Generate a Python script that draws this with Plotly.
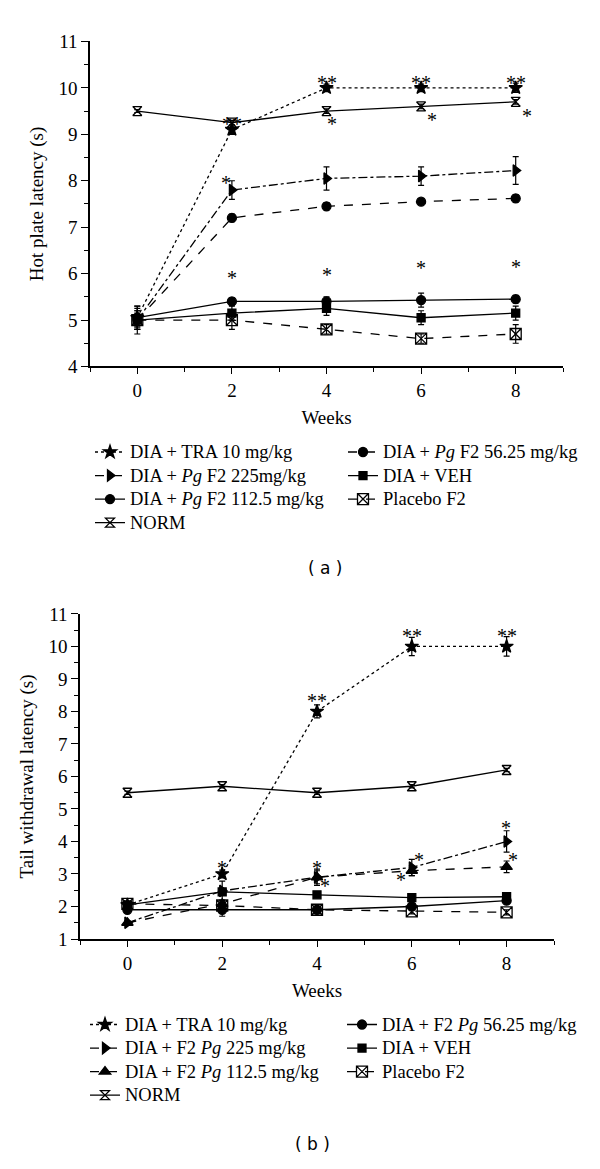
import plotly.graph_objects as go

W, H = 600, 1169


def px(x):
    return x / W


def py(y):
    return 1 - y / H


weeks = [0, 2, 4, 6, 8]

# ---------------- Panel (a): Hot plate latency (s) ----------------
a_tra = [5.05, 9.1, 10.0, 10.0, 10.0]
a_tra_err = [0.25, 0.1, 0.08, 0.08, 0.1]
a_225 = [5.0, 7.8, 8.05, 8.1, 8.22]
a_225_err = [0.2, 0.2, 0.25, 0.2, 0.3]
a_5625 = [5.0, 7.2, 7.45, 7.55, 7.62]
a_5625_err = [0.15, 0.08, 0.08, 0.06, 0.08]
a_1125 = [5.05, 5.4, 5.4, 5.43, 5.45]
a_1125_err = [0.2, 0.08, 0.1, 0.15, 0.08]
a_veh = [5.0, 5.15, 5.25, 5.05, 5.15]
a_veh_err = [0.3, 0.15, 0.15, 0.15, 0.15]
a_plc = [5.0, 5.0, 4.8, 4.6, 4.7]
a_plc_err = [0.2, 0.2, 0.1, 0.1, 0.2]
a_norm = [9.5, 9.25, 9.5, 9.6, 9.7]
a_norm_err = [0.03, 0.05, 0.05, 0.05, 0.05]

a_stars_x = [2, 4, 6, 8, 1.88, 2, 4, 6, 8, 4.12, 6.24, 8.24]
a_stars_y = [9.3, 10.2, 10.2, 10.2, 8.03, 6.0, 6.05, 6.2, 6.23, 9.31, 9.39, 9.47]
a_stars_t = ["**", "**", "**", "**", "*", "*", "*", "*", "*", "*", "*", "*"]

# ---------------- Panel (b): Tail withdrawal latency (s) ----------------
b_tra = [2.05, 3.0, 8.0, 10.0, 10.0]
b_tra_err = [0.05, 0.12, 0.2, 0.28, 0.3]
b_225 = [1.5, 2.48, 2.9, 3.2, 4.0]
b_225_err = [0.05, 0.3, 0.25, 0.25, 0.33]
b_1125 = [1.5, 2.08, 2.9, 3.1, 3.22]
b_1125_err = [0.05, 0.12, 0.2, 0.15, 0.18]
b_5625 = [1.9, 1.9, 1.9, 2.0, 2.18]
b_5625_err = [0.05, 0.2, 0.1, 0.1, 0.1]
b_veh = [2.05, 2.45, 2.36, 2.27, 2.3]
b_veh_err = [0.05, 0.1, 0.08, 0.08, 0.08]
b_plc = [2.08, 2.03, 1.9, 1.85, 1.82]
b_plc_err = [0.05, 0.1, 0.1, 0.08, 0.08]
b_norm = [5.5, 5.7, 5.5, 5.7, 6.2]
b_norm_err = [0.05, 0.05, 0.05, 0.05, 0.05]

b_stars_x = [2, 4, 4.17, 6.15, 5.78, 7.98, 8.13, 4, 6, 8]
b_stars_y = [3.3, 3.3, 2.76, 3.55, 2.94, 4.55, 3.55, 8.43, 10.45, 10.45]
b_stars_t = ["*", "*", "*", "*", "*", "*", "*", "**", "**", "**"]

SERIF = "Liberation Serif"
LEG_TEXT = 18.5   # visible legend text size
LEG_ROW = 15.8    # legend font size that sets the row pitch

fig = go.Figure()


def lab(t):
    return '<span style="font-size:%spx">%s</span>' % (LEG_TEXT, t)


def add(x, y, err, name, dash, symbol, size, xa, ya, legend, rank):
    fig.add_trace(go.Scatter(
        x=x, y=y, name=lab(name), mode="lines+markers",
        line=dict(color="black", width=1.3, dash=dash),
        marker=dict(symbol=symbol, size=size, color="black",
                    line=dict(color="black", width=1.3)),
        error_y=dict(type="data", array=err, visible=True, color="black",
                     thickness=1.2, width=3),
        xaxis=xa, yaxis=ya, legend=legend, legendrank=rank,
        hoverinfo="skip", cliponaxis=False,
    ))


# panel a traces
add(weeks, a_plc, a_plc_err, "Placebo F2", "dash", "square-x-open", 11, "x", "y", "legend", 6)
add(weeks, a_veh, a_veh_err, "DIA + VEH", "solid", "square", 8, "x", "y", "legend", 4)
add(weeks, a_1125, a_1125_err, "DIA + <i>Pg</i> F2 112.5 mg/kg", "solid", "circle", 9, "x", "y", "legend", 5)
add(weeks, a_5625, a_5625_err, "DIA + <i>Pg</i> F2 56.25 mg/kg", "dash", "circle", 9, "x", "y", "legend", 2)
add(weeks, a_225, a_225_err, "DIA + <i>Pg</i> F2 225mg/kg", "dashdot", "triangle-right", 10, "x", "y", "legend", 3)
add(weeks, a_norm, a_norm_err, "NORM", "solid", "hourglass-open", 9, "x", "y", "legend", 7)
add(weeks, a_tra, a_tra_err, "DIA + TRA 10 mg/kg", "dot", "star", 10, "x", "y", "legend", 1)

# panel b traces
add(weeks, b_plc, b_plc_err, "Placebo F2", "dash", "square-x-open", 11, "x2", "y2", "legend2", 6)
add(weeks, b_veh, b_veh_err, "DIA + VEH", "solid", "square", 8, "x2", "y2", "legend2", 4)
add(weeks, b_5625, b_5625_err, "DIA + F2 <i>Pg</i> 56.25 mg/kg", "solid", "circle", 9, "x2", "y2", "legend2", 2)
add(weeks, b_1125, b_1125_err, "DIA + F2 <i>Pg</i> 112.5 mg/kg", "dash", "triangle-up", 10, "x2", "y2", "legend2", 5)
add(weeks, b_225, b_225_err, "DIA + F2 <i>Pg</i> 225 mg/kg", "dashdot", "triangle-right", 10, "x2", "y2", "legend2", 3)
add(weeks, b_norm, b_norm_err, "NORM", "solid", "hourglass-open", 9, "x2", "y2", "legend2", 7)
add(weeks, b_tra, b_tra_err, "DIA + TRA 10 mg/kg", "dot", "star", 10, "x2", "y2", "legend2", 1)

annotations = []
for xs, ys, ts, xr, yr in [(a_stars_x, a_stars_y, a_stars_t, "x", "y"),
                           (b_stars_x, b_stars_y, b_stars_t, "x2", "y2")]:
    for xv, yv, tv in zip(xs, ys, ts):
        annotations.append(dict(x=xv, y=yv, xref=xr, yref=yr, text=tv, showarrow=False,
                                yshift=-4, font=dict(family=SERIF, size=20, color="black")))

annotations.append(dict(x=px(325), y=py(568), xref="paper", yref="paper", text="( a )",
                        xanchor="center", yanchor="middle", showarrow=False,
                        font=dict(family="DejaVu Sans", size=17, color="black")))
annotations.append(dict(x=px(313), y=py(1155), xref="paper", yref="paper", text="( b )",
                        xanchor="center", yanchor="middle", showarrow=False,
                        font=dict(family="DejaVu Sans", size=17, color="black")))

tickfont = dict(family=SERIF, size=19, color="black")
titlefont = dict(family=SERIF, size=19, color="black")


def xaxis(domain, anchor):
    return dict(domain=domain, anchor=anchor, range=[-1, 9], tick0=0, dtick=2,
                showline=True, linecolor="black", linewidth=1.5, ticks="outside",
                ticklen=6, tickwidth=1.3, tickcolor="black", showgrid=False, zeroline=False,
                tickfont=tickfont, title=dict(text="Weeks", font=titlefont, standoff=11),
                minor=dict(dtick=1, tick0=0, ticks="outside", ticklen=4, tickwidth=1.2,
                           tickcolor="black", showgrid=False))


def yaxis(domain, anchor, rng, title):
    return dict(domain=domain, anchor=anchor, range=rng, tick0=0, dtick=1,
                showline=True, linecolor="black", linewidth=1.5, ticks="outside",
                ticklen=7, tickwidth=1.3, tickcolor="black", showgrid=False, zeroline=False,
                tickfont=tickfont, title=dict(text=title, font=titlefont, standoff=10),
                minor=dict(dtick=0.5, tick0=0, ticks="outside", ticklen=4, tickwidth=1.2,
                           tickcolor="black", showgrid=False))


legend_common = dict(orientation="h", xanchor="left", yanchor="top",
                     entrywidthmode="pixels", itemwidth=30, bgcolor="rgba(0,0,0,0)",
                     font=dict(family=SERIF, size=LEG_ROW, color="black"),
                     traceorder="normal", itemclick=False)

fig.update_layout(
    width=W, height=H, margin=dict(l=0, r=0, t=0, b=0),
    paper_bgcolor="white", plot_bgcolor="white",
    xaxis=xaxis([px(90), px(563)], "y"),
    yaxis=yaxis([py(363), py(32)], "x", [4, 11], "Hot plate latency (s)"),
    xaxis2=xaxis([px(80), px(554)], "y2"),
    yaxis2=yaxis([py(946), py(615)], "x2", [1, 11], "Tail withdrawal latency (s)"),
    legend=dict(x=px(90), y=py(433), entrywidth=208, **legend_common),
    legend2=dict(x=px(85), y=py(1016), entrywidth=212, **legend_common),
    annotations=annotations,
    showlegend=True,
)

# remove the browser's default 8px page margin so the figure sits at the window origin
fig.write_html("out.html", config={"displayModeBar": False},
               post_script="document.body.style.margin='0';")
